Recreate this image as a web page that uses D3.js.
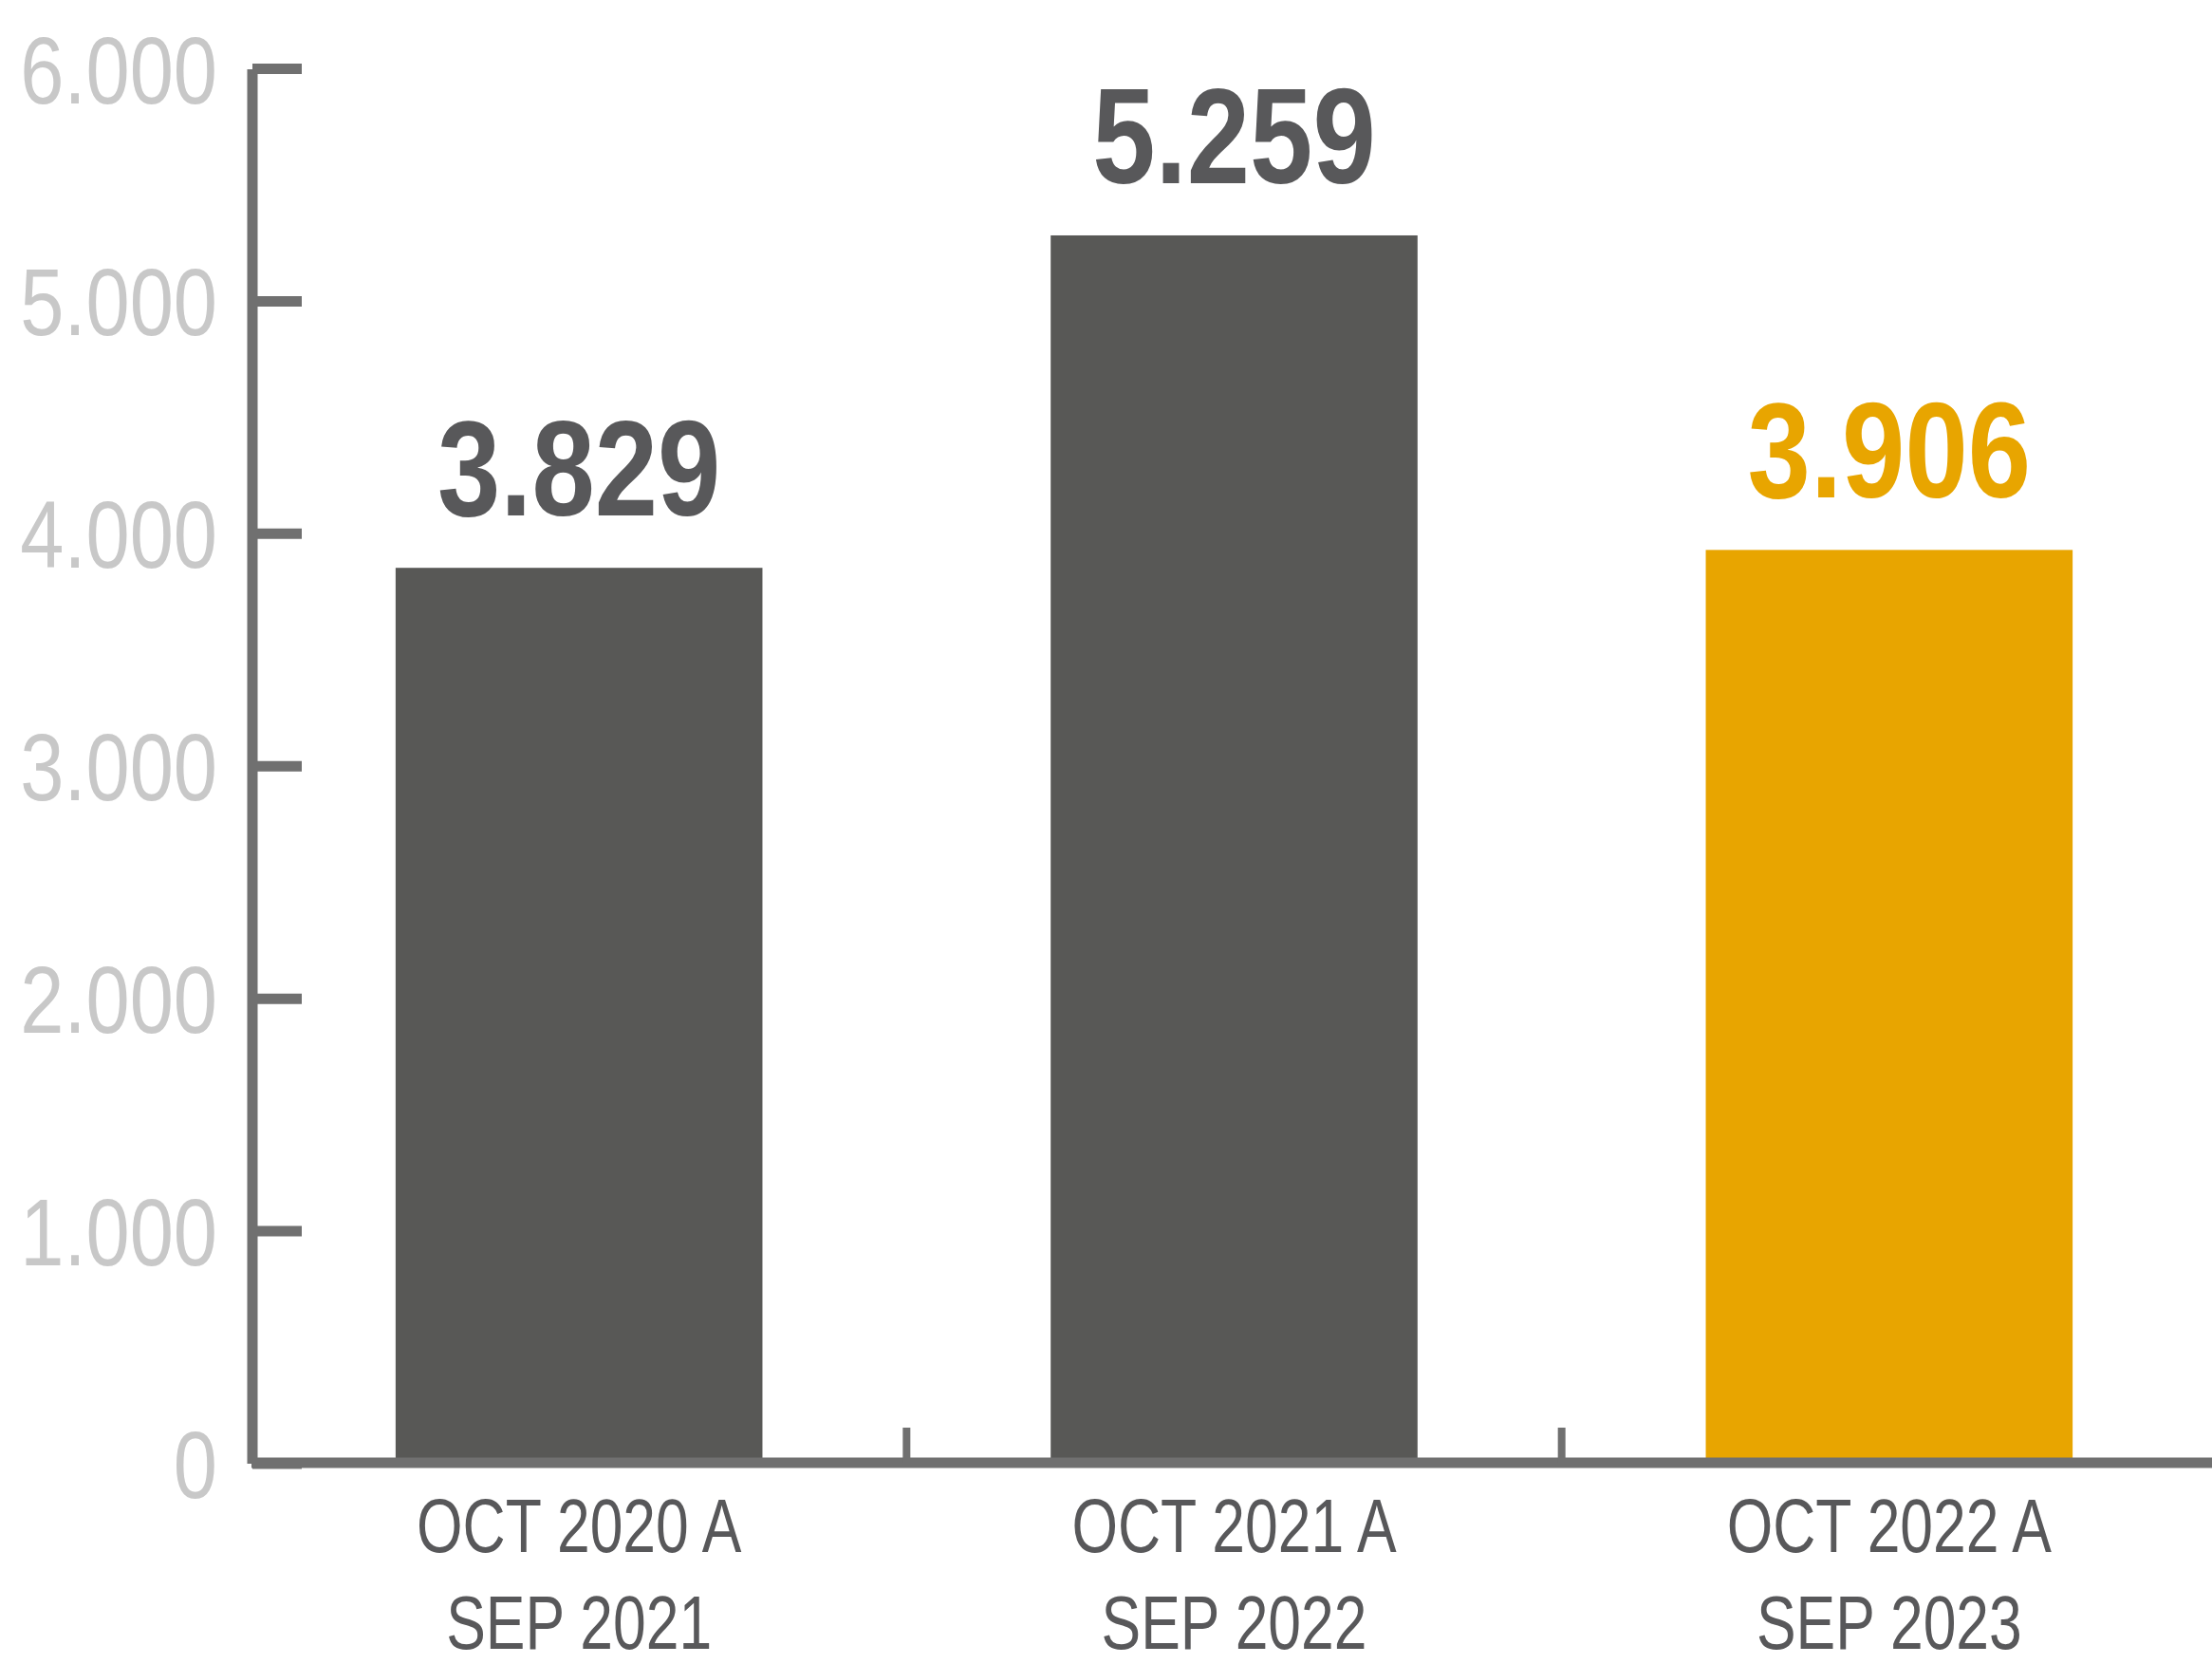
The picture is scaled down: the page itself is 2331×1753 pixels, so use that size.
<!DOCTYPE html>
<html>
<head>
<meta charset="utf-8">
<script src="https://cdn.jsdelivr.net/npm/d3@7"></script>
<style>
  body { margin: 0; background: #fff; }
  svg { display: block; }
</style>
</head>
<body>
<div id="chart"></div>
<script>
const periods = ['OCT 2020 A|SEP 2021', 'OCT 2021 A|SEP 2022', 'OCT 2022 A|SEP 2023'];
const values = [3829, 5259, 3906];
const barColors = ['#585856', '#585856', '#e8a500'];
const labelColors = ['#58585a', '#58585a', '#e8a500'];
const yTicks = [0, 1000, 2000, 3000, 4000, 5000, 6000];

const width = 2331;
const height = 1753;
const axisColor = '#707070';

const fmt = d3.formatLocale({ decimal: ',', thousands: '.', grouping: [3], currency: ['', '€'] }).format(',d');

const svg = d3.select('#chart')
  .append('svg')
  .attr('width', width)
  .attr('height', height)
  .style('font-family', '"Liberation Sans", Arial, sans-serif');

const xScale = d3.scaleBand()
  .domain(periods)
  .range([265, 2336])
  .paddingInner(0.44)
  .paddingOuter(0.22);

const yScale = d3.scaleLinear()
  .domain([0, 6000])
  .range([1536, 66.5]);

// bars
svg.selectAll('rect.bar')
  .data(values)
  .enter()
  .append('rect')
  .attr('class', 'bar')
  .attr('x', (d, i) => xScale(periods[i]))
  .attr('width', xScale.bandwidth())
  .attr('y', d => yScale(d))
  .attr('height', d => yScale(0) - yScale(d) + 4)
  .attr('fill', (d, i) => barColors[i]);

// value labels (condensed look via horizontal scale)
svg.selectAll('g.val')
  .data(values)
  .enter()
  .append('g')
  .attr('class', 'val')
  .attr('transform', (d, i) => `translate(${xScale(periods[i]) + xScale.bandwidth() / 2},${yScale(d) - 55}) scale(0.84,1)`)
  .append('text')
  .attr('text-anchor', 'middle')
  .attr('font-size', '142px')
  .attr('font-weight', 'bold')
  .attr('fill', (d, i) => labelColors[i])
  .text(d => fmt(d));

// y axis (tick strokes hang below the value line, as in the original)
const yAxis = svg.append('g')
  .attr('transform', 'translate(266,5.5)')
  .call(d3.axisLeft(yScale).tickValues(yTicks).tickSize(-52).tickPadding(37).tickFormat(fmt));
yAxis.select('.domain').remove();
yAxis.selectAll('.tick line')
  .attr('x1', 0)
  .attr('stroke', axisColor)
  .attr('stroke-width', 11);
yAxis.selectAll('.tick text')
  .attr('x', 0)
  .attr('transform', 'translate(-37,0) scale(0.83,1)')
  .attr('fill', '#c8c8c8')
  .attr('font-size', '100px')
  .attr('font-family', null)
  .attr('dy', '0.36em');

svg.append('line')
  .attr('x1', 266)
  .attr('x2', 266)
  .attr('y1', 73)
  .attr('y2', 1542)
  .attr('stroke', axisColor)
  .attr('stroke-width', 11);

// x axis
const xAxisY = 1541;
svg.append('line')
  .attr('x1', 265)
  .attr('x2', width)
  .attr('y1', xAxisY)
  .attr('y2', xAxisY)
  .attr('stroke', axisColor)
  .attr('stroke-width', 11);

const gap = xScale.step() - xScale.bandwidth();
svg.selectAll('line.xtick')
  .data(periods.slice(0, -1))
  .enter()
  .append('line')
  .attr('class', 'xtick')
  .attr('x1', d => xScale(d) + xScale.bandwidth() + gap / 2)
  .attr('x2', d => xScale(d) + xScale.bandwidth() + gap / 2)
  .attr('y1', xAxisY - 37)
  .attr('y2', xAxisY)
  .attr('stroke', axisColor)
  .attr('stroke-width', 8);

// category labels
const cat = svg.selectAll('g.cat')
  .data(periods)
  .enter()
  .append('g')
  .attr('class', 'cat')
  .attr('transform', d => `translate(${xScale(d) + xScale.bandwidth() / 2},0) scale(0.78,1)`)
  .append('text')
  .attr('text-anchor', 'middle')
  .attr('font-size', '80px')
  .attr('fill', '#58585a');

cat.each(function (d) {
  const parts = d.split('|');
  d3.select(this).append('tspan').attr('x', 0).attr('y', 1635).text(parts[0]);
  d3.select(this).append('tspan').attr('x', 0).attr('y', 1737).text(parts[1]);
});
</script>
</body>
</html>
